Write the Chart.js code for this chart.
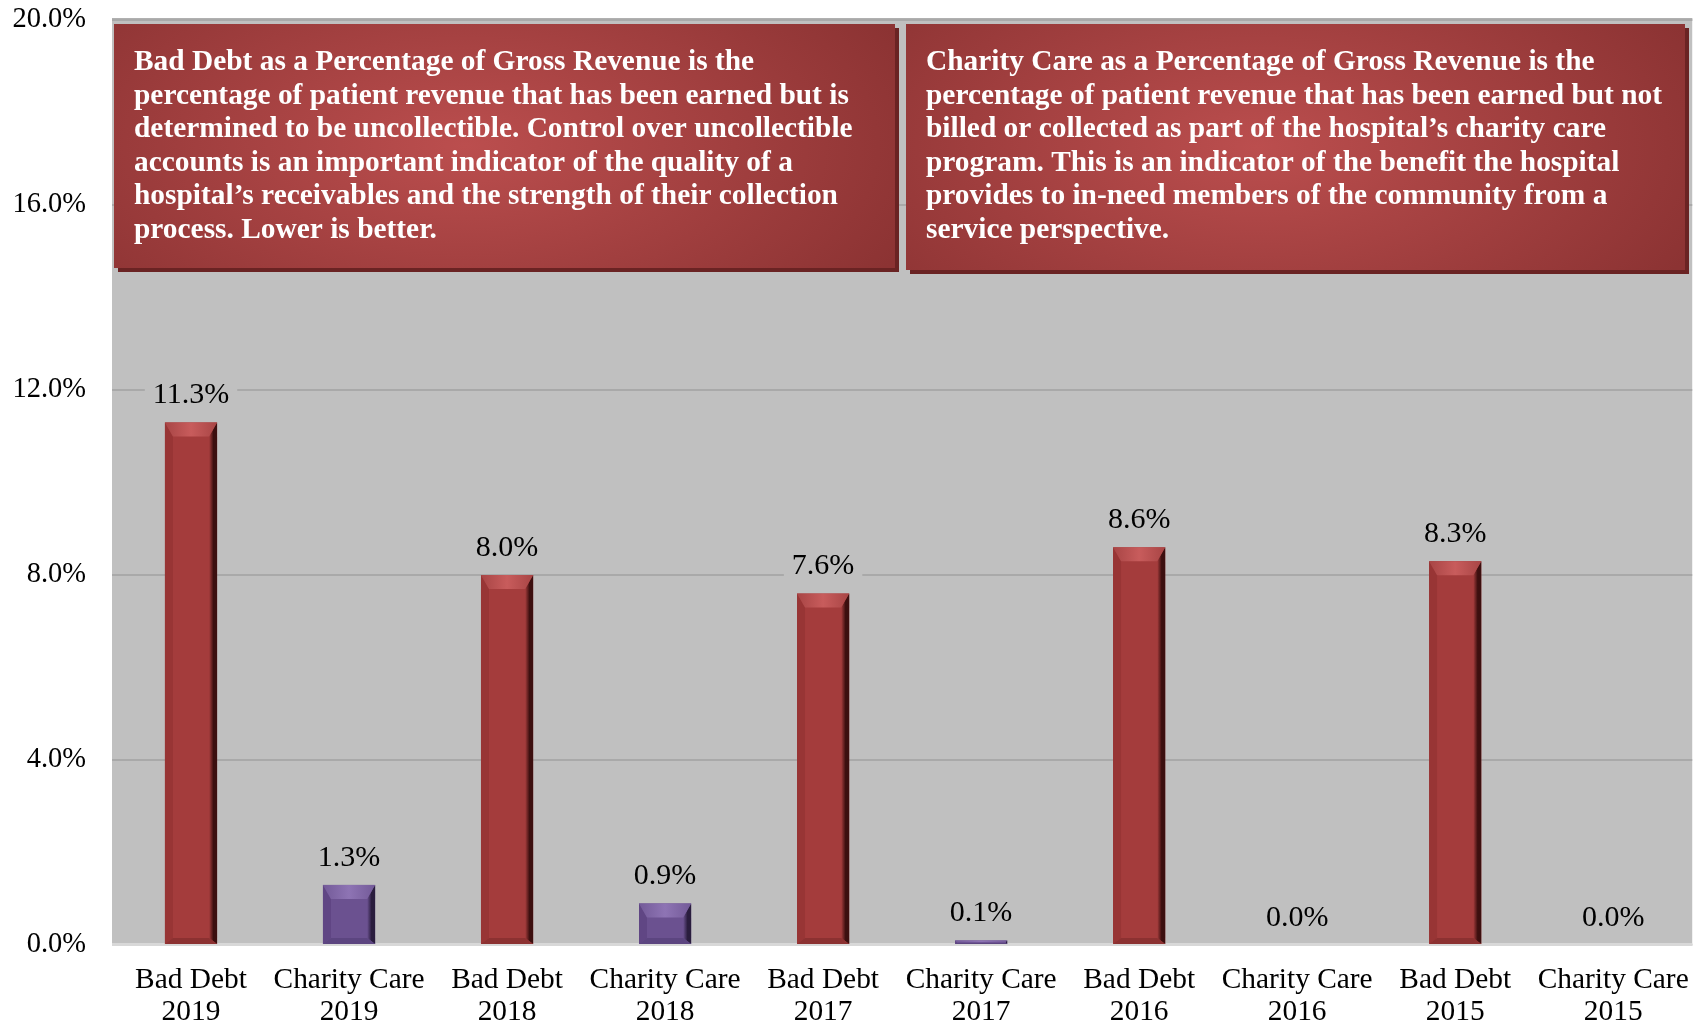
<!DOCTYPE html>
<html>
<head>
<meta charset="utf-8">
<script src="https://cdn.jsdelivr.net/npm/chart.js@4.4.1/dist/chart.umd.min.js"></script>
<style>
  html, body { margin: 0; padding: 0; background: #ffffff; }
  canvas { display: block; }
</style>
</head>
<body>
<canvas id="chart" width="1700" height="1027"></canvas>
<script>
// chart data
const categories = [
    ['Bad Debt', '2019'], ['Charity Care', '2019'],
    ['Bad Debt', '2018'], ['Charity Care', '2018'],
    ['Bad Debt', '2017'], ['Charity Care', '2017'],
    ['Bad Debt', '2016'], ['Charity Care', '2016'],
    ['Bad Debt', '2015'], ['Charity Care', '2015']
];
const values = [11.3, 1.3, 8.0, 0.9, 7.6, 0.1, 8.6, 0.0, 8.3, 0.0];
const yTicks = [0, 4, 8, 12, 16, 20];

const badDebtNote = [
    'Bad Debt as a Percentage of Gross Revenue is the',
    'percentage of patient revenue that has been earned but is',
    'determined to be uncollectible. Control over uncollectible',
    'accounts is an important indicator of the quality of a',
    'hospital\u2019s receivables and the strength of their collection',
    'process. Lower is better.'
];
const charityNote = [
    'Charity Care as a Percentage of Gross Revenue is the',
    'percentage of patient revenue that has been earned but not',
    'billed or collected as part of the hospital\u2019s charity care',
    'program. This is an indicator of the benefit the hospital',
    'provides to in-need members of the community from a',
    'service perspective.'
];

const SERIF = '"Liberation Serif", "Times New Roman", serif';
const RED = { face: '#a43c3c', top: '#c85c5c', topEdge: '#a84545', left: '#983535', right: '#3c0f0f', bottom: '#8c3131' };
const PURPLE = { face: '#6b5190', top: '#8e74b4', topEdge: '#735a98', left: '#604684', right: '#2a1d3e', bottom: '#5c4580' };
const palette = categories.map(c => c[0] === 'Bad Debt' ? RED : PURPLE);

// gray plot background
const plotBackground = {
    id: 'plotBackground',
    beforeDraw(chart) {
        const { ctx, chartArea: a } = chart;
        ctx.save();
        ctx.fillStyle = '#c0c0c0';
        ctx.fillRect(a.left, a.top - 2, a.right - a.left, a.bottom - a.top + 2);
        ctx.fillStyle = '#b0b0b0';
        ctx.fillRect(a.left, a.top - 2, a.right - a.left, 3);
        ctx.restore();
    }
};

// bevelled bars + value labels
const bevelBars = {
    id: 'bevelBars',
    afterDatasetsDraw(chart) {
        const { ctx, chartArea: a } = chart;
        const meta = chart.getDatasetMeta(0);
        ctx.save();
        // light floor line
        ctx.fillStyle = '#d8d8d8';
        ctx.fillRect(a.left, a.bottom - 2, a.right - a.left, 3);

        meta.data.forEach((bar, i) => {
            const p = bar.getProps(['x', 'y', 'base', 'width'], true);
            const l = p.x - p.width / 2, r = p.x + p.width / 2;
            const t = p.y, b = p.base;
            const h = b - t;
            const c = palette[i];
            if (h > 0.5) {
                const st = Math.min(14, h / 2);
                const sb = Math.min(6, h / 3);
                const ss = Math.min(8, h / 2);
                ctx.fillStyle = c.face;
                ctx.fillRect(l, t, r - l, h);
                // left
                ctx.fillStyle = c.left;
                ctx.beginPath();
                ctx.moveTo(l, t); ctx.lineTo(l + ss, t + st); ctx.lineTo(l + ss, b - sb); ctx.lineTo(l, b);
                ctx.fill();
                // right
                const gr = ctx.createLinearGradient(r - ss, 0, r, 0);
                gr.addColorStop(0, c.face);
                gr.addColorStop(0.55, c.right);
                gr.addColorStop(1, c.right);
                ctx.fillStyle = gr;
                ctx.beginPath();
                ctx.moveTo(r, t); ctx.lineTo(r - ss, t + st); ctx.lineTo(r - ss, b - sb); ctx.lineTo(r, b);
                ctx.fill();
                // bottom
                ctx.fillStyle = c.bottom;
                ctx.beginPath();
                ctx.moveTo(l, b); ctx.lineTo(l + ss, b - sb); ctx.lineTo(r - ss, b - sb); ctx.lineTo(r, b);
                ctx.fill();
                // top
                const gt = ctx.createLinearGradient(l, 0, r, 0);
                gt.addColorStop(0, c.topEdge);
                gt.addColorStop(0.5, c.top);
                gt.addColorStop(1, c.topEdge);
                ctx.fillStyle = gt;
                ctx.beginPath();
                ctx.moveTo(l, t); ctx.lineTo(r, t); ctx.lineTo(r - ss, t + st); ctx.lineTo(l + ss, t + st);
                ctx.fill();
            }
            // value label
            const txt = values[i].toFixed(1) + '%';
            ctx.font = '30px ' + SERIF;
            const w = ctx.measureText(txt).width;
            const cy = t - 27;
            ctx.fillStyle = '#c0c0c0';
            ctx.fillRect(p.x - w / 2 - 8, cy - 15, w + 16, 30);
            ctx.fillStyle = '#000000';
            ctx.textAlign = 'center';
            ctx.textBaseline = 'middle';
            ctx.fillText(txt, p.x, cy);
        });
        ctx.restore();
    }
};

// the two red note boxes
function drawNote(ctx, x, y, w, h, lines) {
    ctx.save();
    ctx.fillStyle = '#6a2323';
    ctx.fillRect(x + 4, y + 4, w, h);
    ctx.save();
    ctx.beginPath();
    ctx.rect(x, y, w, h);
    ctx.clip();
    ctx.translate(x + w * 0.45, y + h * 0.5);
    ctx.scale(1, h / w * 1.6);
    const g = ctx.createRadialGradient(0, 0, 0, 0, 0, w * 0.62);
    g.addColorStop(0, '#bb4e4e');
    g.addColorStop(1, '#8c3333');
    ctx.fillStyle = g;
    ctx.fillRect(-w, -w, w * 2, w * 2);
    ctx.restore();
    ctx.fillStyle = '#ffffff';
    ctx.font = 'bold 29.4px ' + SERIF;
    ctx.textAlign = 'left';
    ctx.textBaseline = 'alphabetic';
    lines.forEach((line, k) => ctx.fillText(line, x + 20, y + 46 + k * 33.6));
    ctx.restore();
}

const noteBoxes = {
    id: 'noteBoxes',
    afterDraw(chart) {
        const { ctx } = chart;
        drawNote(ctx, 114, 24, 781, 244, badDebtNote);
        drawNote(ctx, 906, 24, 779, 246, charityNote);
    }
};

new Chart(document.getElementById('chart').getContext('2d'), {
    type: 'bar',
    data: {
        labels: categories,
        datasets: [{
            data: values,
            backgroundColor: 'rgba(0,0,0,0)',
            borderWidth: 0,
            barPercentage: 0.33,
            categoryPercentage: 1.0
        }]
    },
    options: {
        responsive: false,
        animation: false,
        devicePixelRatio: 1,
        layout: { padding: { top: 0, right: 6, left: 0, bottom: 0 } },
        plugins: {
            legend: { display: false },
            tooltip: { enabled: false }
        },
        scales: {
            x: {
                grid: { display: false },
                border: { display: false },
                ticks: {
                    color: '#000000',
                    font: { family: SERIF, size: 29.4, lineHeight: 1.09 },
                    maxRotation: 0,
                    autoSkip: false,
                    padding: 11
                },
                afterFit(scale) { scale.height = 82; }
            },
            y: {
                min: 0,
                max: 20,
                afterBuildTicks(scale) { scale.ticks = yTicks.map(v => ({ value: v })); },
                ticks: {
                    color: '#000000',
                    font: { family: SERIF, size: 28.5 },
                    padding: 26,
                    callback: v => v.toFixed(1) + '%'
                },
                grid: { color: '#a9a9a9', lineWidth: 2, drawTicks: false },
                border: { display: false },
                afterFit(scale) {
                    scale.width = 112;
                    scale.paddingTop = 20;
                    scale.paddingBottom = 0;
                }
            }
        }
    },
    plugins: [plotBackground, bevelBars, noteBoxes]
});
</script>
</body>
</html>
